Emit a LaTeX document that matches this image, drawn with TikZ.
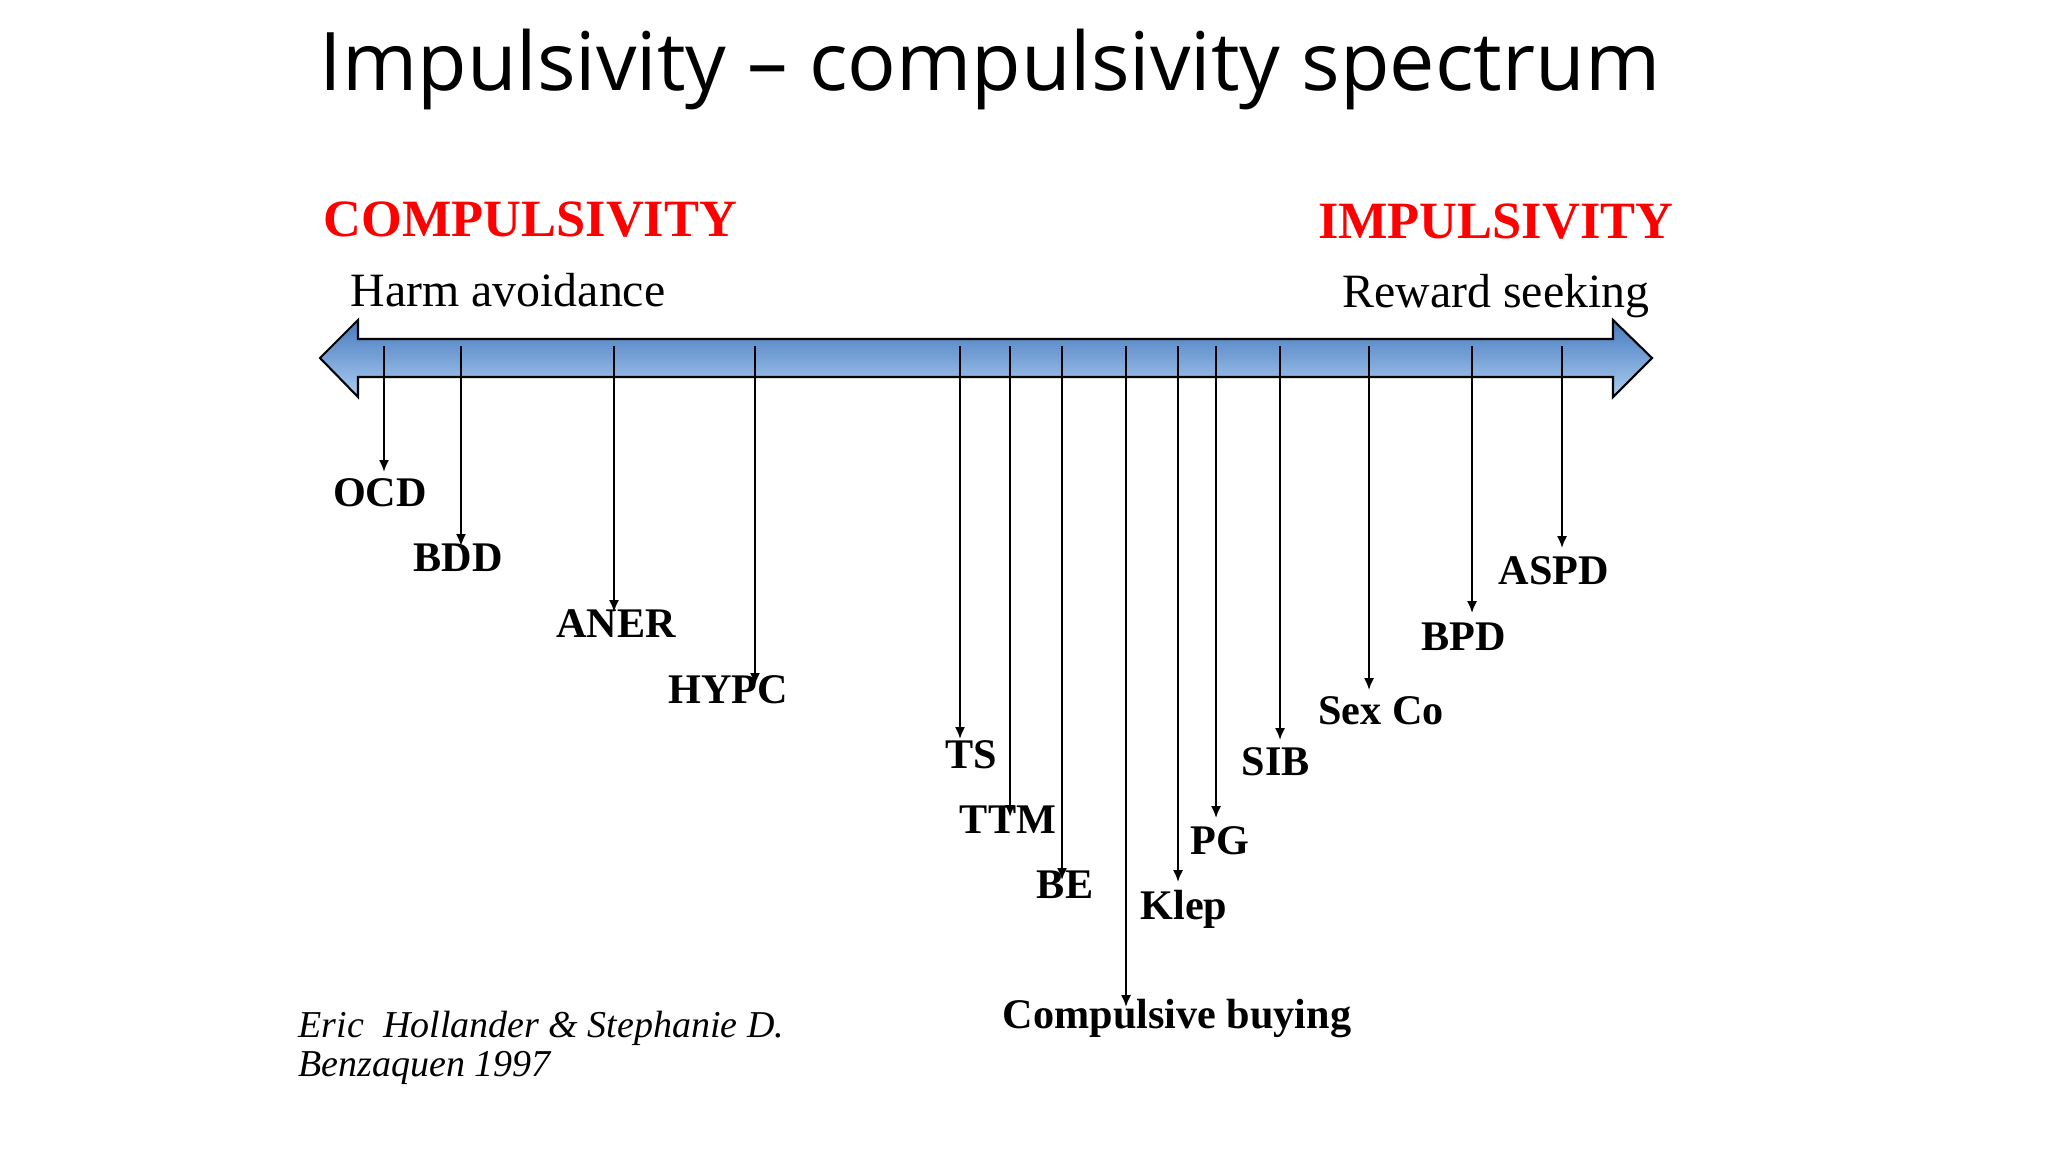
\documentclass[tikz,border=0pt]{standalone}
\usepackage{fontspec}
\setmainfont{Liberation Serif}
\newfontfamily\titlefont{Open Sans}
\usetikzlibrary{arrows.meta}
\definecolor{bartop}{RGB}{70,122,190}
\definecolor{barbot}{RGB}{172,204,240}
\definecolor{polered}{RGB}{255,0,0}

\begin{document}
\begin{tikzpicture}[
	x=0.01cm, y=-0.01cm,
	pointer/.style={-{Latex[length=3.4pt,width=2.9pt]}, line width=0.6pt},
	lbl/.style={inner sep=0pt, anchor=base, font=\fontsize{12}{14}\selectfont\bfseries},
	pole/.style={inner sep=0pt, text=polered, font=\fontsize{14.9}{18}\selectfont\bfseries},
	side/.style={inner sep=0pt, font=\fontsize{13.6}{16}\selectfont},
	cite/.style={inner sep=0pt, anchor=base west, font=\fontsize{10.8}{12}\selectfont\itshape},
	bar/.style={draw=black, line width=0.6pt, top color=bartop, bottom color=barbot}
	]
	\useasboundingbox (0,0) rectangle (2048,1152);

	% heading
	\node[inner sep=0pt, anchor=base, font=\titlefont\fontsize{23}{28}\selectfont] (title) at (990,91)
		{Impulsivity – compulsivity spectrum};

	% the two ends of the scale
	\node[pole, anchor=base west] (comp) at (323,237) {COMPULSIVITY};
	\node[pole, anchor=base east] (impu) at (1674,239) {IMPULSIVITY};
	\node[side, anchor=base west] (harm) at (350,307) {Harm avoidance};
	\node[side, anchor=base east] (reward) at (1650,308) {Reward seeking};

	% double headed bar
	\draw[bar] (320,358) -- (358,320) -- (358,339) -- (1613,339) -- (1613,320) -- (1652,358)
		-- (1613,397) -- (1613,377) -- (358,377) -- (358,397) -- cycle;

	% disorders along the scale
	\foreach \x/\ty/\lx/\ly/\n/\t in {
		384/472/380/507/ocd/OCD,
		461/546/458/572/bdd/BDD,
		614/612/616/637/aner/ANER,
		755/685/728/703/hypc/HYPC,
		960/739/971/768/ts/TS,
		1010/817/1008/833/ttm/TTM,
		1062/880/1065/898/be/BE,
		1126/1007/1177/1028/cb/Compulsive buying,
		1178/882/1184/919/klep/Klep,
		1216/818/1220/854/pg/PG,
		1280/740/1276/775/sib/SIB,
		1369/690/1381/725/sexco/Sex Co,
		1472/613/1464/650/bpd/BPD,
		1562/548/1554/584/aspd/ASPD}
	{
		\node[lbl] (\n) at (\lx,\ly) {\t};
		\coordinate (top-\n) at (\x,346);
		\coordinate (tip-\n) at (\x,\ty);
		\draw[pointer] (top-\n) -- (tip-\n);
	}

	% source
	\node[cite] (cite1) at (298,1037) {Eric~~Hollander \& Stephanie D.};
	\node[cite] (cite2) at (298,1076) {Benzaquen 1997};
\end{tikzpicture}
\end{document}
